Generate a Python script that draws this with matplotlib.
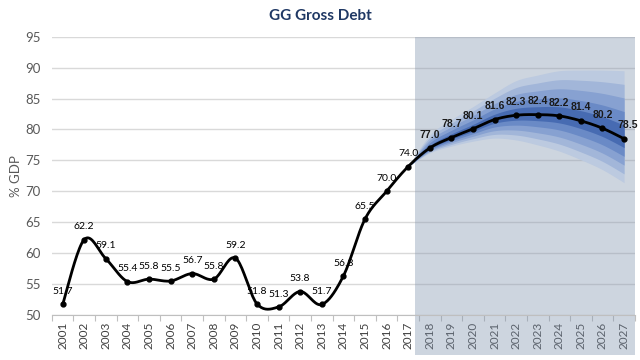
import numpy as np
import matplotlib
matplotlib.use('Agg')
import matplotlib.pyplot as plt
from matplotlib.patches import Rectangle
import matplotlib.transforms as mtrans

plt.rcParams['font.family'] = ['Lato', 'DejaVu Sans']

years = [str(y) for y in range(2001, 2028)]
debt = [51.7, 62.2, 59.1, 55.4, 55.8, 55.5, 56.7, 55.8, 59.2, 51.8,
        51.3, 53.8, 51.7, 56.3, 65.5, 70.0, 74.0, 77.0, 78.7, 80.1,
        81.6, 82.3, 82.4, 82.2, 81.4, 80.2, 78.5]
# fan chart outer edges, 2017..2027
fan_years = years[16:]
fan_upper = [74.0, 79.1, 81.6, 83.7, 85.9, 87.9, 88.8, 89.5, 89.6, 89.6, 89.5]
fan_lower = [74.0, 76.2, 77.3, 78.1, 78.6, 78.3, 77.5, 76.5, 75.1, 73.5, 71.4]

fan_colors = ['#bccae0', '#a2b6d9', '#87a1d1', '#6a8ac6', '#476bb2']
fan_levels = [1.0, 0.8, 0.6, 0.4, 0.2]


def smooth(x, y, n=20):
    # excel-like smoothed line (catmull-rom as bezier)
    x = np.asarray(x, float)
    y = np.asarray(y, float)
    px = np.concatenate([[x[0]], x, [x[-1]]])
    py = np.concatenate([[y[0]], y, [y[-1]]])
    xs, ys = [], []
    t = np.linspace(0, 1, n, endpoint=False)
    for i in range(1, len(px) - 2):
        p0 = np.array([px[i], py[i]])
        p3 = np.array([px[i + 1], py[i + 1]])
        p1 = p0 + (p3 - np.array([px[i - 1], py[i - 1]])) / 6
        p2 = p3 - (np.array([px[i + 2], py[i + 2]]) - p0) / 6
        for tt in t:
            b = ((1 - tt) ** 3 * p0 + 3 * (1 - tt) ** 2 * tt * p1
                 + 3 * (1 - tt) * tt ** 2 * p2 + tt ** 3 * p3)
            xs.append(b[0])
            ys.append(b[1])
    xs.append(x[-1])
    ys.append(y[-1])
    return np.array(xs), np.array(ys)


fig = plt.figure(figsize=(6.4, 3.6), dpi=100)
ax = fig.add_axes([0.081, 0.125, 0.911, 0.773])
ax.set_axisbelow(True)

xi = np.arange(len(years))
fx = xi[16:]
mid = np.array(debt[16:])
up = np.array(fan_upper)
lo = np.array(fan_lower)

# forecast shading (extends under the tick labels)
trans = mtrans.blended_transform_factory(ax.transData, ax.transAxes)
ax.add_patch(Rectangle((16.3, -0.145), 26.5 - 16.3, 1.145, transform=trans,
                       facecolor='#8497b0', alpha=0.4, edgecolor='none',
                       clip_on=False, zorder=0.8))

for lev, col in zip(fan_levels, fan_colors):
    sx, su = smooth(fx, mid + (up - mid) * lev)
    _, sl = smooth(fx, mid - (mid - lo) * lev)
    ax.fill_between(sx, sl, su, color=col, lw=0, zorder=1)

sx, sy = smooth(xi, debt)
ax.plot(sx, sy, color='black', lw=2.0, zorder=3, solid_capstyle='round')
ax.plot(xi, debt, 'o', color='black', ms=3.5, zorder=4)

for i, v in enumerate(debt):
    if i >= 17:
        dx = 3 if i == len(debt) - 1 else 0
        ax.annotate('%.1f' % v, (i, v), xytext=(dx, 6),
                    textcoords='offset points', ha='center', va='bottom',
                    fontsize=7.5, fontweight='bold', color='#1a1a1a',
                    family=['Liberation Sans', 'DejaVu Sans'], zorder=5)
    else:
        ax.annotate('%.1f' % v, (i, v), xytext=(0, 6),
                    textcoords='offset points', ha='center', va='bottom',
                    fontsize=7.5, color='black', zorder=5)

ax.set_xlim(-0.5, 26.5)
ax.set_ylim(50, 95)
ax.set_yticks(range(50, 96, 5))
ax.set_xticks(np.arange(-0.5, 27, 1))
ax.set_xticklabels([])
ax.set_xticks(xi, minor=True)
ax.set_xticklabels(years, minor=True, rotation=90, fontsize=8.5, color='#404040')
ax.tick_params(axis='x', which='major', length=4, color='#bfbfbf')
ax.tick_params(axis='x', which='minor', length=0, pad=5)
ax.tick_params(axis='y', length=0, labelsize=9.5, labelcolor='#595959', pad=8)
ax.grid(axis='y', color='#d9d9d9', lw=1)
for s in ['top', 'right', 'left']:
    ax.spines[s].set_visible(False)
ax.spines['bottom'].set_color('#bfbfbf')
ax.set_ylabel('% GDP', fontsize=9.5, color='#595959', labelpad=2)

fig.text(0.5, 0.955, 'GG Gross Debt', ha='center', va='center',
         fontsize=11, fontweight='bold', color='#1f3864')

fig.savefig('out.png', dpi=100)
